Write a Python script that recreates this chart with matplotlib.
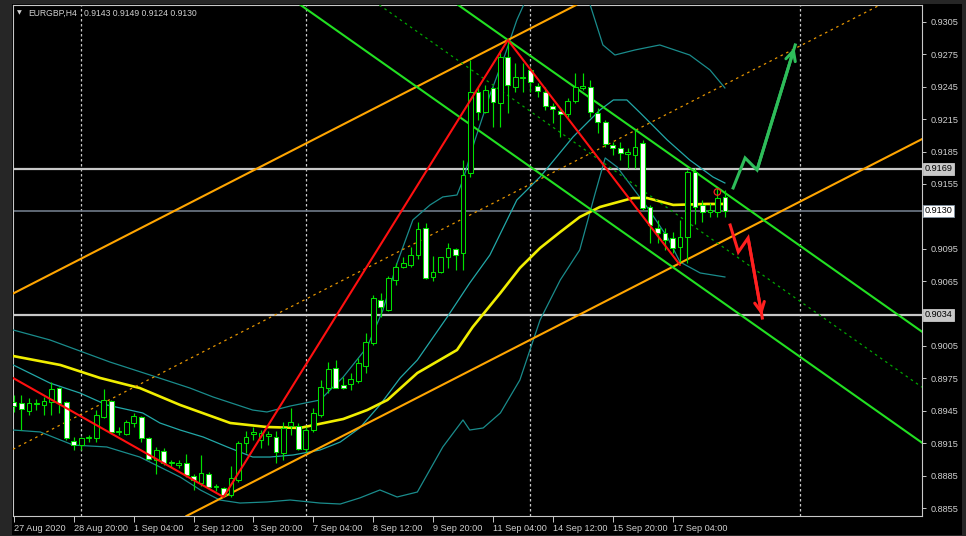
import matplotlib
matplotlib.use('Agg')
import matplotlib.pyplot as plt
import matplotlib.transforms as mtransforms
from matplotlib.patches import Rectangle

plt.rcParams['font.family'] = ['Liberation Sans Narrow', 'Liberation Sans', 'DejaVu Sans']

# ---------------- data (EURGBP H4) ----------------
opens = [0.89531,0.89522,0.89448,0.89513,0.89504,0.89531,0.89661,0.89531,0.89170,0.89133,
         0.89198,0.89198,0.89393,0.89541,0.89254,0.89235,0.89337,0.89393,0.89198,0.88994,
         0.89078,0.88967,0.88948,0.88967,0.88846,0.88781,0.88865,0.88744,0.88735,0.88670,
         0.88809,0.89152,0.89235,0.89180,0.89217,0.89207,0.89059,0.89309,0.89309,0.89096,
         0.89272,0.89411,0.89661,0.89846,0.89689,0.89698,0.89726,0.89865,0.90078,0.90476,
         0.90383,0.90661,0.90781,0.90800,0.90893,0.91143,0.90689,0.90735,0.90874,0.90948,
         0.90911,0.91652,0.92402,0.92217,0.92439,0.92300,0.92726,0.92448,0.92531,0.92606,
         0.92457,0.92402,0.92272,0.92226,0.92198,0.92319,0.92439,0.92448,0.92207,0.92124,
         0.91911,0.91883,0.91828,0.91819,0.91930,0.91337,0.91143,0.91096,0.91050,0.90967,
         0.91059,0.91661,0.91356,0.91291,0.91291,0.91430]
highs = [0.89596,0.89596,0.89569,0.89559,0.89578,0.89717,0.89670,0.89541,0.89207,0.89207,
         0.89226,0.89457,0.89652,0.89550,0.89300,0.89365,0.89430,0.89402,0.89207,0.89115,
         0.89106,0.88994,0.88994,0.89050,0.88865,0.89041,0.88883,0.88772,0.88744,0.88939,
         0.89170,0.89263,0.89300,0.89272,0.89263,0.89263,0.89346,0.89476,0.89337,0.89300,
         0.89476,0.89735,0.89902,0.89920,0.89763,0.89800,0.89939,0.90170,0.90522,0.90541,
         0.90698,0.90819,0.90874,0.90967,0.91198,0.91189,0.90883,0.90874,0.91004,0.90957,
         0.91772,0.92698,0.92448,0.92467,0.92448,0.92791,0.92883,0.92670,0.92670,0.92633,
         0.92485,0.92448,0.92300,0.92254,0.92346,0.92578,0.92578,0.92513,0.92254,0.92143,
         0.91939,0.91939,0.91883,0.92050,0.91957,0.91356,0.91217,0.91143,0.91106,0.91217,
         0.91680,0.91698,0.91402,0.91374,0.91513,0.91490]
lows = [0.89439,0.89272,0.89411,0.89457,0.89411,0.89411,0.89430,0.89180,0.89087,0.89087,
        0.89161,0.89161,0.89383,0.89244,0.89226,0.89226,0.89300,0.89161,0.88994,0.88865,
        0.88948,0.88930,0.88920,0.88837,0.88717,0.88754,0.88735,0.88707,0.88652,0.88652,
        0.88791,0.89059,0.89180,0.89106,0.89133,0.88967,0.88994,0.89226,0.89087,0.89069,
        0.89254,0.89393,0.89615,0.89661,0.89652,0.89643,0.89707,0.89800,0.90059,0.90319,
        0.90374,0.90615,0.90772,0.90781,0.90856,0.90670,0.90652,0.90726,0.90772,0.90754,
        0.90754,0.91615,0.92143,0.92207,0.92078,0.92078,0.92207,0.92402,0.92402,0.92402,
        0.92356,0.92235,0.92115,0.91985,0.92170,0.92300,0.92420,0.92170,0.92022,0.91893,
        0.91819,0.91772,0.91698,0.91698,0.91309,0.91004,0.91004,0.90939,0.90911,0.90828,
        0.90819,0.91180,0.91198,0.91244,0.91244,0.91240]
closes = [0.89494,0.89467,0.89522,0.89522,0.89541,0.89652,0.89522,0.89198,0.89133,0.89198,
          0.89207,0.89411,0.89550,0.89254,0.89263,0.89346,0.89402,0.89198,0.89004,0.89087,
          0.88967,0.88976,0.88967,0.88856,0.88809,0.88874,0.88744,0.88754,0.88670,0.88828,
          0.89152,0.89207,0.89254,0.89244,0.89235,0.89069,0.89291,0.89346,0.89096,0.89272,
          0.89430,0.89670,0.89837,0.89661,0.89661,0.89744,0.89893,0.90087,0.90494,0.90411,
          0.90680,0.90781,0.90819,0.90893,0.91133,0.90680,0.90735,0.90874,0.90957,0.90893,
          0.91633,0.92402,0.92217,0.92420,0.92309,0.92726,0.92467,0.92541,0.92541,0.92494,
          0.92411,0.92272,0.92244,0.92198,0.92319,0.92448,0.92457,0.92217,0.92124,0.91920,
          0.91883,0.91837,0.91846,0.91893,0.91328,0.91170,0.91096,0.91031,0.90957,0.91059,
          0.91661,0.91337,0.91291,0.91309,0.91420,0.91300]

# moving average (yellow) sampled along the chart: bar index, price
ma_bars = [-0.1, 6.2, 11.5, 16.8, 22.2, 28.9, 33.8, 38.2, 44.0, 47.2, 49.9, 53.9, 59.2, 61.3,
           65.0, 67.6, 70.3, 73.0, 75.6, 78.3, 82.7, 84.6, 88.1, 92.6, 95.0]
ma_vals = [0.89957, 0.89874, 0.89754, 0.89661, 0.89504, 0.89337, 0.89300, 0.89291, 0.89374,
           0.89457, 0.89550, 0.89800, 0.90013, 0.90226, 0.90541, 0.90772, 0.90957, 0.91106,
           0.91244, 0.91337, 0.91420, 0.91420, 0.91356, 0.91365, 0.91365]

# Bollinger bands
bb_up_bars = [-0.1, 4.8, 8.8, 12.8, 18.2, 23.5, 26.6, 31.9, 33.8, 36.9, 40.9, 44.0, 47.2, 49.3,
              51.2, 53.3, 55.6, 57.3, 59.2, 60.0, 61.6, 63.6, 65.6, 67.2, 69.0, 73.0, 75.6,
              77.0, 78.7, 80.3, 83.0, 86.3, 90.3, 93.0, 95.0]
bb_up_vals = [0.90198, 0.90106, 0.90004, 0.89902, 0.89781, 0.89661, 0.89578, 0.89457, 0.89439,
              0.89494, 0.89550, 0.89763, 0.90041, 0.90383, 0.90819, 0.91217, 0.91356, 0.91430,
              0.91448, 0.91587, 0.91957, 0.92374, 0.92744, 0.93069, 0.93346, 0.93531, 0.93439,
              0.93207, 0.92837, 0.92744, 0.92791, 0.92837, 0.92744, 0.92606, 0.92439]
bb_mid_bars = [-0.1, 4.8, 8.8, 12.4, 17.2, 19.5, 22.2, 25.3, 28.5, 31.9, 34.2, 37.3, 40.9, 43.6,
               46.2, 48.9, 51.6, 53.9, 57.9, 60.9, 63.6, 67.2, 70.3, 74.7, 78.3, 80.1, 81.9,
               83.7, 87.3, 90.3, 93.4, 95.0]
bb_mid_vals = [0.89874, 0.89707, 0.89615, 0.89504, 0.89430, 0.89337, 0.89272, 0.89207, 0.89115,
               0.89022, 0.89022, 0.89041, 0.89087, 0.89161, 0.89291, 0.89504, 0.89754, 0.89920,
               0.90319, 0.90633, 0.90893, 0.91402, 0.91615, 0.91985, 0.92235, 0.92328, 0.92328,
               0.92207, 0.91957, 0.91772, 0.91615, 0.91559]
bb_low_bars = [-0.1, 3.5, 7.9, 12.4, 16.8, 22.2, 24.9, 27.5, 30.2, 33.8, 36.9, 40.9, 43.6, 46.2,
               48.9, 51.2, 53.9, 57.3, 60.0, 60.9, 62.7, 65.0, 67.6, 70.3, 73.0, 75.6, 77.6,
               79.0, 80.6, 84.6, 87.3, 89.0, 91.7, 95.0]
bb_low_vals = [0.89272, 0.89254, 0.89133, 0.89115, 0.89022, 0.88837, 0.88717, 0.88624, 0.88596,
               0.88606, 0.88624, 0.88596, 0.88587, 0.88643, 0.88717, 0.88652, 0.88698, 0.89115,
               0.89365, 0.89272, 0.89291, 0.89430, 0.89735, 0.90291, 0.90661, 0.90939, 0.91448,
               0.91791, 0.91707, 0.91337, 0.91059, 0.90828, 0.90726, 0.90689]

# drawn objects
orange_low_anchor = (28, 0.88652)
orange_high_anchor = (66, 0.92883)
orange_slope = 0.000355
green_high_anchor = (66, 0.92883)
green_slope = -0.000488
green_width = 0.01028
zigzag_bars = [-0.13, 28, 66, 89]
zigzag_vals = [0.89754, 0.88652, 0.92883, 0.90800]
up_arrow_bars = [96.1, 97.7, 99.3, 104.4]
up_arrow_vals = [0.91513, 0.91791, 0.91680, 0.92837]
down_arrow_bars = [95.7, 96.8, 98.1, 100.0]
down_arrow_vals = [0.91170, 0.90920, 0.91050, 0.90309]
hlevels = [0.9169, 0.9034]
bid = 0.9130
alert_bar, alert_val = [94], [0.91476]
grid_bars = [9, 39, 69, 105]

symbol_label = 'EURGBP,H4'
ohlc_label = '0.9143 0.9149 0.9124 0.9130'
yticks = [0.8855 + 0.003 * k for k in range(16)]
xtick_bars = [0, 8, 16, 24, 32, 40, 48, 56, 64, 72, 80, 88]
xtick_labels = ['27 Aug 2020', '28 Aug 20:00', '1 Sep 04:00', '2 Sep 12:00', '3 Sep 20:00',
                '7 Sep 04:00', '8 Sep 12:00', '9 Sep 20:00', '11 Sep 04:00', '14 Sep 12:00',
                '15 Sep 20:00', '17 Sep 04:00']

# ---------------- figure ----------------
W, H = 966, 536
fig = plt.figure(figsize=(W / 100, H / 100), dpi=100, facecolor='#262626')
fig.patches.append(Rectangle((12 / W, 1 - 535 / H), 950 / W, 531.5 / H, transform=fig.transFigure,
                             facecolor='black', edgecolor='none', zorder=-5))
ax = fig.add_axes([13 / W, 20 / H, 909 / W, 511 / H])
ax.set_zorder(1)
ax.set_facecolor('black')
ax.set_xlim(-0.134, 121.34)
ax.set_ylim(0.88476, 0.93207)

for s in ax.spines.values():
    s.set_color('#c8c8c8')
    s.set_linewidth(0.8)

# grid (vertical dotted)
for gb in grid_bars:
    ax.axvline(gb, color='#c8c8c8', lw=0.9, dashes=(2, 2), zorder=1)

# horizontal levels
for lv in hlevels:
    ax.axhline(lv, color='#c8c8c8', lw=1.6, zorder=2)
ax.axhline(bid, color='#6f7a88', lw=1.2, zorder=2)

# indicators
ax.plot(bb_up_bars, bb_up_vals, color='#1a8c8c', lw=0.9, zorder=3)
ax.plot(bb_low_bars, bb_low_vals, color='#1a8c8c', lw=0.9, zorder=3)
ax.plot(bb_mid_bars, bb_mid_vals, color='#22a8a8', lw=0.9, zorder=3)
ax.plot(ma_bars, ma_vals, color='#f0ee00', lw=1.9, zorder=4)

# orange equidistant channel
ox0, oy0 = orange_low_anchor
ox1, oy1 = orange_high_anchor
ax.axline((ox0, oy0), slope=orange_slope, color='#ffa500', lw=1.5, zorder=5)
ax.axline((ox1, oy1), slope=orange_slope, color='#ffa500', lw=1.5, zorder=5)
mid_o = oy1 - orange_slope * (ox1 - ox0)
ax.axline((ox0, (oy0 + mid_o) / 2), slope=orange_slope, color='#e69500', lw=0.9,
          dashes=(2, 3), zorder=5)

# green descending channel
gx, gy = green_high_anchor
ax.axline((gx, gy), slope=green_slope, color='#22e022', lw=1.5, zorder=5)
ax.axline((gx, gy - green_width), slope=green_slope, color='#22e022', lw=1.5, zorder=5)
ax.axline((gx, gy - green_width / 2), slope=green_slope, color='#00a800', lw=0.9,
          dashes=(2, 3), zorder=5)

# candles
bw = 0.64
for i, (o, h, l, c) in enumerate(zip(opens, highs, lows, closes)):
    ax.vlines(i, l, h, color='#00e000', lw=0.85, zorder=6)
    bottom = min(o, c)
    height = max(abs(c - o), 0.00003)
    face = 'white' if c < o else 'black'
    ax.bar(i, height, bw, bottom=bottom, facecolor=face, edgecolor='#00e000', lw=0.75, zorder=7)

# red zigzag
ax.plot(zigzag_bars, zigzag_vals, color='#ff1010', lw=1.5, zorder=8, solid_capstyle='round')

# scenario arrows
ax.plot(up_arrow_bars, up_arrow_vals, color='#2ebd5a', lw=2.2, zorder=8, solid_joinstyle='miter')
ax.annotate('', xy=(up_arrow_bars[-1], up_arrow_vals[-1]),
            xytext=(up_arrow_bars[-2], up_arrow_vals[-2]),
            arrowprops=dict(arrowstyle='->,head_length=0.7,head_width=0.35', color='#2ebd5a', lw=2.2),
            zorder=8)
ax.plot(down_arrow_bars, down_arrow_vals, color='#ff2020', lw=2.2, zorder=8, solid_joinstyle='miter')
ax.annotate('', xy=(down_arrow_bars[-1], down_arrow_vals[-1]),
            xytext=(down_arrow_bars[-2], down_arrow_vals[-2]),
            arrowprops=dict(arrowstyle='->,head_length=0.7,head_width=0.35', color='#ff2020', lw=2.2),
            zorder=8)
ax.scatter(alert_bar, alert_val, s=22, facecolors='none', edgecolors='#ff2020', lw=0.9, zorder=9)

# axes ticks (labels hidden behind the price boxes are left blank)
hidden = {'0.9125', '0.9035'}
ax.yaxis.tick_right()
ax.set_yticks(yticks)
ax.set_yticklabels(['' if ('%.4f' % v) in hidden else '%.4f' % v for v in yticks])
ax.tick_params(axis='y', direction='out', length=3, width=0.7, color='#c8c8c8',
               labelcolor='#d0d0d0', labelsize=6.6, pad=3)
ax.set_xticks(xtick_bars)
ax.set_xticklabels(xtick_labels)
ax.tick_params(axis='x', direction='out', length=4, width=0.7, color='#c8c8c8',
               labelcolor='#d0d0d0', labelsize=6.6, pad=2)
for lab in ax.get_xticklabels():
    lab.set_ha('left')

# price boxes on the scale
tr = mtransforms.blended_transform_factory(ax.transAxes, ax.transData)
for lv in hlevels:
    ax.text(1.003, lv, '%.4f' % lv, transform=tr, va='center', ha='left', fontsize=6.6,
            color='black', zorder=20, clip_on=False,
            bbox=dict(boxstyle='square,pad=0.18', fc='#c8c8c8', ec='#c8c8c8', lw=0.6))
ax.text(1.003, bid, '%.4f' % bid, transform=tr, va='center', ha='left', fontsize=6.6,
        color='black', zorder=20, clip_on=False,
        bbox=dict(boxstyle='square,pad=0.18', fc='white', ec='#8090a0', lw=0.6))

# header
fig.text(17 / W, 1 - 13 / H, '\u25bc', color='#d0d0d0', fontsize=4.5, va='center', ha='left',
         family=['DejaVu Sans'], zorder=5)
fig.text(28 / W, 1 - 13 / H, symbol_label, color='#d0d0d0',
         fontsize=6.2, va='center', ha='left', zorder=5)
fig.text(84 / W, 1 - 13 / H, ohlc_label, color='#d0d0d0',
         fontsize=6.2, va='center', ha='left', zorder=5)

fig.savefig('out.png', dpi=100, facecolor=fig.get_facecolor())
